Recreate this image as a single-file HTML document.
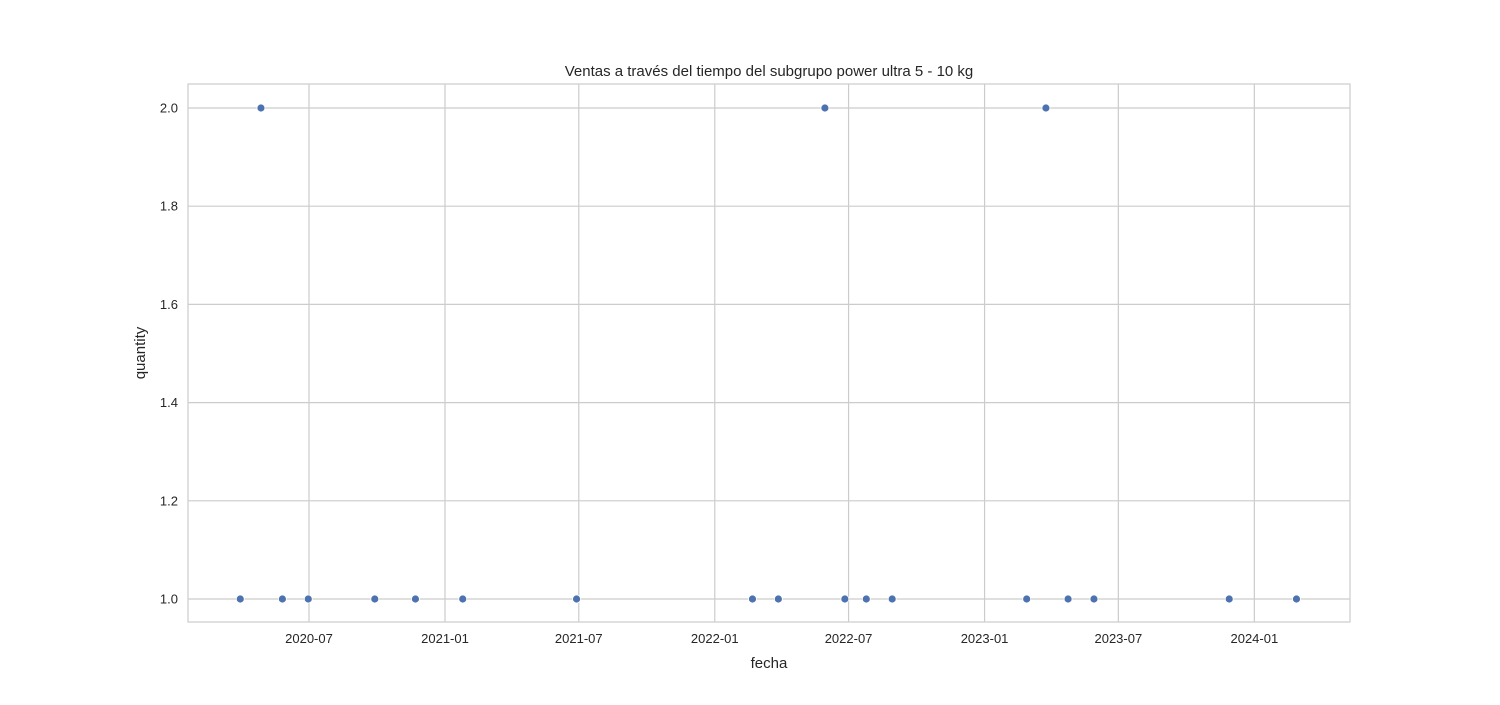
<!DOCTYPE html>
<html><head><meta charset="utf-8">
<style>
body{margin:0;background:#fff;}
svg text{font-family:"Liberation Sans",sans-serif;fill:#262626;}
</style></head>
<body>
<svg id="chart" width="1500" height="700" xmlns="http://www.w3.org/2000/svg">
<rect x="0" y="0" width="1500" height="700" fill="#fff"/>
<g id="grid"></g>
<g id="pts"></g>
<rect x="188" y="84" width="1162" height="538" fill="none" stroke="#cccccc" stroke-width="1.2"/>
<g id="labels"></g>
<text x="769" y="76" text-anchor="middle" font-size="15">Ventas a través del tiempo del subgrupo power ultra 5 - 10 kg</text>
<text x="769" y="668" text-anchor="middle" font-size="15">fecha</text>
<text x="145" y="353" text-anchor="middle" font-size="15" transform="rotate(-90 145 353)">quantity</text>
</svg>
<script>
const dates=["2020-03-30","2020-04-27","2020-05-26","2020-06-30","2020-09-28","2020-11-22","2021-01-25","2021-06-28","2022-02-21","2022-03-28","2022-05-30","2022-06-26","2022-07-25","2022-08-29","2023-02-27","2023-03-25","2023-04-24","2023-05-29","2023-11-28","2024-02-27"];
const quantities=[1,2,1,1,1,1,1,1,1,1,2,1,1,1,1,2,1,1,1,1];
const xTickLabels=["2020-07","2021-01","2021-07","2022-01","2022-07","2023-01","2023-07","2024-01"];
const yTicks=[1.0,1.2,1.4,1.6,1.8,2.0];
const NS="http://www.w3.org/2000/svg";
const DAY=86400000;
const t0=Date.UTC(2020,6,1);
const pxPerDay=136/184;
function xs(d){const t=(typeof d==="string")?Date.parse(d+"T00:00:00Z"):d;return 309+(t-t0)/DAY*pxPerDay;}
function ys(v){return 599-(v-1)*491;}
function mk(tag,attrs,parent){const e=document.createElementNS(NS,tag);for(const k in attrs)e.setAttribute(k,attrs[k]);parent.appendChild(e);return e;}
const grid=document.getElementById('grid'),lab=document.getElementById('labels'),pts=document.getElementById('pts');
xTickLabels.forEach(s=>{const x=xs(s+"-01");
 const l=mk('line',{x1:x,x2:x,y1:84,y2:622,stroke:'#cccccc','stroke-width':1.2},grid);
 
 
 const t=mk('text',{x:x,y:643,'text-anchor':'middle','font-size':13},lab);
 
 
 t.textContent=s;});
yTicks.forEach(v=>{const y=ys(v);
 const l=mk('line',{x1:188,x2:1350,y1:y,y2:y,stroke:'#cccccc','stroke-width':1.2},grid);
 
 
 const t=mk('text',{x:178,y:y+4.5,'text-anchor':'end','font-size':13},lab);
 
 
 t.textContent=v.toFixed(1);});
dates.forEach((d,i)=>{
 const c=mk('circle',{cx:xs(d),cy:ys(quantities[i]),r:4,fill:'#4c72b0',stroke:'#ffffff','stroke-width':0.8},pts);
 
 
});
</script>
</body></html>
